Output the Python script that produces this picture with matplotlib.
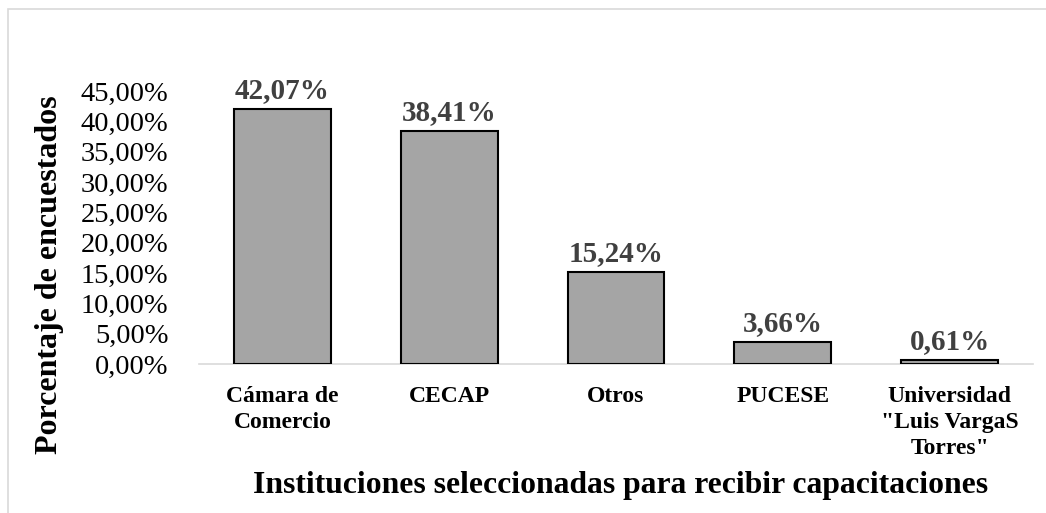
import matplotlib
matplotlib.use("Agg")
import matplotlib.pyplot as plt
from matplotlib.patches import Rectangle
import numpy as np

categories = ["Cámara de\nComercio", "CECAP", "Otros", "PUCESE",
              "Universidad\n\"Luis VargaS\nTorres\""]
values = [42.07, 38.41, 15.24, 3.66, 0.61]
yticks = [0, 5, 10, 15, 20, 25, 30, 35, 40, 45]

plt.rcParams["font.family"] = "Liberation Serif"

W, H = 1046, 513
fig = plt.figure(figsize=(W / 100, H / 100), dpi=100)
ax = fig.add_axes([199 / W, 1 - 364 / H, (1033 - 199) / W, (364 - 91) / H])

# outer frame (cropped on the right and bottom)
fig.patches.append(Rectangle((8 / W, -0.1), 1.2, 1 - 9 / H + 0.1,
                             transform=fig.transFigure, fill=False,
                             edgecolor="#d9d9d9", linewidth=1.2))

x = np.arange(len(categories))
ax.bar(x, values, width=0.58, color="#a5a5a5", edgecolor="black",
       linewidth=1.5, zorder=3)

for xi, v in zip(x, values):
    ax.text(xi, v + 0.8, ("%.2f%%" % v).replace(".", ","), ha="center",
            va="bottom", fontsize=21, fontweight="bold", color="#404040")

ax.set_xlim(-0.5, len(categories) - 0.5)
ax.set_ylim(0, 45)
ax.set_yticks(yticks)
ax.set_yticklabels([("%.2f%%" % t).replace(".", ",") for t in yticks],
                   fontsize=20.5)
ax.set_xticks(x)
ax.set_xticklabels(categories, fontsize=17, fontweight="bold",
                   linespacing=1.32, va="top")
ax.tick_params(axis="both", length=0)
ax.tick_params(axis="y", pad=22)
ax.tick_params(axis="x", pad=16)

for s in ["top", "right", "left"]:
    ax.spines[s].set_visible(False)
ax.spines["bottom"].set_color("#d9d9d9")
ax.spines["bottom"].set_linewidth(1.2)

fig.text(50 / W, 1 - 275 / H, "Porcentaje de encuestados", rotation=90,
         ha="center", va="center", fontsize=23, fontweight="bold")
fig.text(621 / W, 1 - 486 / H,
         "Instituciones seleccionadas para recibir capacitaciones",
         ha="center", va="center", fontsize=22.8, fontweight="bold")

fig.savefig("out.png", dpi=100)
